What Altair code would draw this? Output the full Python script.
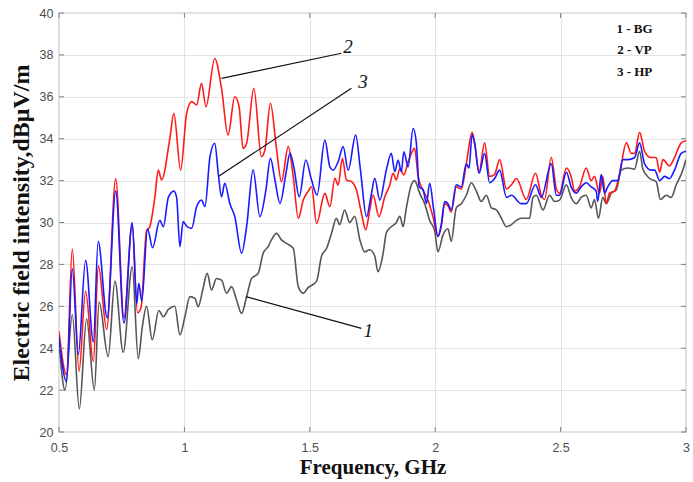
import altair as alt
import pandas as pd

# ---- data ----
bg_f = [0.5, 0.524, 0.553, 0.581, 0.61, 0.641, 0.66, 0.696, 0.723, 0.756, 0.792, 0.816, 0.832, 0.849,
        0.872, 0.898, 0.916, 0.936, 0.962, 0.982, 1.002, 1.022, 1.042, 1.055, 1.073, 1.091, 1.108, 1.128,
        1.148, 1.168, 1.188, 1.208, 1.228, 1.248, 1.268, 1.294, 1.314, 1.334, 1.347, 1.367, 1.387, 1.407,
        1.434, 1.454, 1.474, 1.494, 1.507, 1.527, 1.547, 1.567, 1.587, 1.606, 1.619, 1.639, 1.659, 1.679,
        1.699, 1.719, 1.739, 1.759, 1.772, 1.792, 1.805, 1.825, 1.845, 1.859, 1.872, 1.885, 1.905, 1.918,
        1.938, 1.958, 1.978, 1.998, 2.011, 2.031, 2.051, 2.064, 2.084, 2.104, 2.124, 2.144, 2.164, 2.184,
        2.204, 2.224, 2.244, 2.264, 2.284, 2.304, 2.324, 2.343, 2.363, 2.376, 2.39, 2.403, 2.43, 2.456,
        2.476, 2.496, 2.523, 2.542, 2.562, 2.582, 2.602, 2.622, 2.635, 2.651, 2.668, 2.682, 2.702, 2.722,
        2.742, 2.768, 2.795, 2.815, 2.828, 2.855, 2.881, 2.898, 2.921, 2.941, 2.961, 2.981, 3.0]
bg_v = [24.3, 22.0, 25.6, 21.1, 25.4, 22.0, 26.2, 23.6, 27.2, 23.8, 27.9, 23.5, 25.0, 26.0,
        24.4, 25.8, 25.5, 25.85, 26.0, 24.63, 25.5, 26.46, 26.38, 25.98, 26.78, 27.57, 26.78, 27.33,
        27.25, 26.62, 26.94, 26.3, 25.66, 26.46, 27.33, 27.57, 28.53, 28.85, 29.17, 29.48, 29.17, 29.0,
        28.77, 26.94, 26.62, 26.9, 27.0, 27.2, 28.4, 28.77, 29.5, 30.2, 29.9, 30.6, 30.0, 30.3,
        29.2, 28.6, 28.7, 28.4, 27.65, 28.5, 29.5, 29.8, 30.0, 30.3, 29.8, 30.7, 31.8, 32.0,
        31.4, 30.9, 30.1, 29.6, 28.6, 29.4, 29.7, 29.1, 30.7, 30.9, 31.3, 31.9, 31.5, 31.0,
        31.3, 30.7, 30.6, 30.2, 29.8, 29.9, 30.1, 30.2, 30.2, 30.2, 31.2, 31.3, 30.6, 31.3,
        31.0, 31.07, 31.8, 31.2, 30.9, 31.2, 31.3, 30.7, 31.1, 30.2, 31.2, 30.9, 31.4, 31.55,
        32.5, 32.6, 32.55, 33.4, 32.55, 32.1, 31.95, 31.1, 31.3, 31.2, 31.8, 32.3, 33.0]

vp_f = [0.5, 0.53, 0.553, 0.58, 0.606, 0.637, 0.657, 0.69, 0.726, 0.759, 0.792, 0.813, 0.827, 0.849,
        0.862, 0.882, 0.896, 0.909, 0.942, 0.958, 0.985, 1.009, 1.029, 1.049, 1.068, 1.086, 1.121, 1.148,
        1.174, 1.201, 1.218, 1.234, 1.248, 1.277, 1.307, 1.321, 1.343, 1.367, 1.387, 1.414, 1.434, 1.454,
        1.474, 1.494, 1.507, 1.527, 1.56, 1.58, 1.6, 1.613, 1.63, 1.646, 1.666, 1.686, 1.706, 1.723,
        1.739, 1.752, 1.776, 1.799, 1.819, 1.832, 1.845, 1.859, 1.875, 1.892, 1.905, 1.918, 1.932, 1.951,
        1.971, 1.991, 2.011, 2.024, 2.038, 2.051, 2.064, 2.084, 2.104, 2.124, 2.147, 2.157, 2.175, 2.197,
        2.217, 2.237, 2.257, 2.284, 2.304, 2.324, 2.363, 2.4, 2.423, 2.436, 2.463, 2.483, 2.496, 2.523,
        2.542, 2.556, 2.575, 2.602, 2.622, 2.635, 2.655, 2.668, 2.682, 2.695, 2.715, 2.735, 2.762, 2.782,
        2.795, 2.815, 2.835, 2.861, 2.881, 2.895, 2.908, 2.934, 2.954, 2.981, 3.0]
vp_v = [24.81, 22.73, 28.73, 22.89, 26.73, 23.37, 27.93, 24.89, 32.08, 25.45, 29.92, 25.69, 25.93, 29.6,
        29.8, 31.2, 32.5, 32.03, 34.02, 35.21, 32.5, 35.21, 35.77, 35.61, 36.64, 35.53, 37.83, 36.4,
        34.18, 36.0, 35.53, 33.54, 33.78, 36.4, 33.14, 33.46, 35.69, 33.54, 31.95, 33.62, 32.19, 30.2,
        31.07, 31.5, 31.71, 29.96, 31.39, 30.75, 32.11, 31.79, 33.06, 32.03, 31.95, 31.55, 30.44, 29.65,
        30.6, 31.31, 30.28, 31.23, 31.79, 32.35, 32.03, 32.58, 32.27, 32.9, 33.3, 33.54, 32.19, 31.55,
        31.07, 30.28, 29.33, 29.8, 30.9, 30.8, 30.5, 31.7, 31.6, 32.8, 34.3, 33.8, 32.4, 33.8,
        32.2, 32.3, 33.0, 31.6, 31.8, 32.1, 31.1, 32.35, 31.3, 31.1, 33.1, 31.6, 31.4, 32.6,
        32.2, 31.5, 31.7, 32.6, 32.0, 32.2, 31.4, 32.2, 30.9, 31.4, 31.5, 32.3, 33.8, 33.3,
        33.3, 34.3, 33.4, 33.1, 33.1, 32.4, 33.0, 32.7, 33.1, 33.8, 33.9]

hp_f = [0.5, 0.53, 0.553, 0.577, 0.606, 0.637, 0.656, 0.692, 0.726, 0.759, 0.792, 0.81, 0.818, 0.83,
        0.853, 0.873, 0.902, 0.916, 0.936, 0.958, 0.969, 0.982, 0.995, 1.011, 1.029, 1.049, 1.068, 1.082,
        1.102, 1.121, 1.135, 1.148, 1.161, 1.181, 1.201, 1.228, 1.248, 1.274, 1.301, 1.325, 1.343, 1.361,
        1.381, 1.405, 1.421, 1.436, 1.458, 1.484, 1.507, 1.529, 1.56, 1.58, 1.593, 1.613, 1.633, 1.653,
        1.683, 1.702, 1.726, 1.746, 1.759, 1.779, 1.805, 1.825, 1.839, 1.852, 1.865, 1.875, 1.892, 1.912,
        1.925, 1.936, 1.952, 1.965, 1.978, 1.994, 2.011, 2.024, 2.038, 2.051, 2.064, 2.084, 2.104, 2.124,
        2.135, 2.147, 2.157, 2.175, 2.197, 2.217, 2.237, 2.257, 2.284, 2.304, 2.343, 2.363, 2.4, 2.423,
        2.463, 2.483, 2.496, 2.523, 2.542, 2.562, 2.582, 2.602, 2.622, 2.642, 2.648, 2.662, 2.675, 2.688,
        2.708, 2.728, 2.748, 2.768, 2.795, 2.815, 2.835, 2.861, 2.875, 2.895, 2.915, 2.934, 2.954, 2.981, 3.0]
hp_v = [24.5, 22.4, 27.8, 23.7, 28.2, 24.3, 29.1, 25.45, 31.5, 25.2, 30.0, 26.1, 27.1, 26.25,
        29.7, 28.8, 30.1, 29.8, 31.2, 31.5, 31.2, 28.85, 30.04, 29.8, 29.72, 30.76, 31.07, 30.76,
        33.14, 33.78, 32.35, 31.23, 31.87, 30.91, 30.28, 28.53, 29.8, 32.51, 30.28, 31.55, 33.06, 32.03,
        30.91, 32.35, 33.3, 32.67, 31.23, 32.98, 32.03, 31.31, 33.93, 32.66, 32.5, 32.9, 33.62, 32.5,
        34.17, 32.5, 30.28, 31.39, 32.11, 31.07, 32.5, 33.3, 32.42, 32.98, 32.42, 33.38, 32.66, 34.49,
        33.77, 31.71, 31.55, 30.91, 31.87, 30.6, 29.33, 29.9, 31.0, 30.9, 30.6, 31.8, 31.7, 32.8,
        32.6, 34.2, 33.8, 32.35, 33.3, 31.9, 32.1, 32.5, 31.2, 31.3, 30.9, 30.9, 31.8, 31.2,
        32.8, 31.3, 31.3, 32.4, 31.7, 31.4, 31.7, 31.9, 31.7, 31.5, 31.0, 32.3, 31.4, 31.7,
        32.0, 32.0, 33.0, 33.0, 33.1, 33.8, 32.8, 32.5, 32.5, 32.0, 32.2, 32.1, 32.5, 33.3, 33.4]

# annotation leader lines (start point on curve -> end near label)
ann_label = ["2", "3", "1"]
ann_x1 = [1.148, 1.135, 1.245]
ann_y1 = [36.88, 32.19, 26.46]
ann_x2 = [1.626, 1.666, 1.706]
ann_y2 = [38.08, 36.41, 24.95]
ann_tx = [1.652, 1.712, 1.733]
ann_ty = [38.4, 36.72, 24.8]

legend_text = ["1 - BG", "2 - VP", "3 - HP"]
legend_x = [2.795, 2.795, 2.795]
legend_y = [39.22, 38.22, 37.18]

x_ticks = [0.5, 1, 1.5, 2, 2.5, 3]
y_ticks = [20, 22, 24, 26, 28, 30, 32, 34, 36, 38, 40]

W, H = 627, 419
X_TITLE = "Frequency, GHz"
Y_TITLE = "Electric field intensity,dBμV/m"

xs = alt.Scale(domain=[0.5, 3], nice=False, zero=False)
ys = alt.Scale(domain=[20, 40], nice=False, zero=False)

x_axis = alt.Axis(values=x_ticks, format="~g", grid=True, gridColor="#e3e3e3", ticks=False,
                  domain=False, labelFont="Liberation Sans", labelFontSize=12.5,
                  labelColor="#4d4d4d", labelPadding=9, labelFlush=False, labelOverlap=False,
                  titleFont="Liberation Serif", titleFontSize=21, titleFontWeight="bold",
                  titleColor="#111111", titlePadding=3)
y_axis = alt.Axis(values=y_ticks, grid=True, gridColor="#e3e3e3", ticks=False,
                  domain=False, labelFont="Liberation Sans", labelFontSize=12.5,
                  labelColor="#4d4d4d", labelPadding=6, labelFlush=False, labelOverlap=False,
                  titleFont="Liberation Serif", titleFontSize=24, titleFontWeight="bold",
                  titleColor="#111111", titlePadding=6)


def XE(field):
    return alt.X(field, type="quantitative", scale=xs, axis=x_axis, title=X_TITLE)


def YE(field):
    return alt.Y(field, type="quantitative", scale=ys, axis=y_axis, title=Y_TITLE)


def series(f, v, color):
    df = pd.DataFrame({"f": f, "v": v})
    return alt.Chart(df).mark_line(color=color, strokeWidth=1.6, interpolate="monotone", clip=True).encode(
        x=XE("f"), y=YE("v"))


# inward tick marks (MATLAB style) on all four sides
xt = pd.DataFrame({"f": x_ticks})
yt = pd.DataFrame({"v": y_ticks})
tick_col = "#808080"
tb = alt.Chart(xt).mark_rule(color=tick_col, strokeWidth=1).encode(
    x=XE("f"), y=alt.value(H), y2=alt.value(H - 5))
tt = alt.Chart(xt).mark_rule(color=tick_col, strokeWidth=1).encode(
    x=XE("f"), y=alt.value(0), y2=alt.value(5))
tl = alt.Chart(yt).mark_rule(color=tick_col, strokeWidth=1).encode(
    y=YE("v"), x=alt.value(0), x2=alt.value(5))
tr = alt.Chart(yt).mark_rule(color=tick_col, strokeWidth=1).encode(
    y=YE("v"), x=alt.value(W), x2=alt.value(W - 5))

ann_df = pd.DataFrame({"label": ann_label, "x1": ann_x1, "y1": ann_y1, "x2": ann_x2, "y2": ann_y2,
                       "tx": ann_tx, "ty": ann_ty})
leaders = alt.Chart(ann_df).mark_rule(color="#111111", strokeWidth=1.2).encode(
    x=XE("x1"), y=YE("y1"), x2="x2:Q", y2="y2:Q")
labels = alt.Chart(ann_df).mark_text(font="Liberation Serif", fontSize=19, fontStyle="italic",
                                     align="center", baseline="middle", color="#111111").encode(
    x=XE("tx"), y=YE("ty"), text="label:N")

leg_df = pd.DataFrame({"t": legend_text, "x": legend_x, "y": legend_y})
legend = alt.Chart(leg_df).mark_text(font="Liberation Serif", fontSize=13, fontWeight="bold",
                                     align="center", baseline="middle", color="#111111").encode(
    x=XE("x"), y=YE("y"), text="t:N")

chart = alt.layer(
    series(bg_f, bg_v, "#555555"),
    series(vp_f, vp_v, "#ff1a1a"),
    series(hp_f, hp_v, "#1a1aff"),
    tb, tt, tl, tr,
    leaders, labels, legend,
).properties(
    width=W, height=H,
    autosize=alt.AutoSizeParams(type="none"),
    padding={"left": 59, "top": 13, "right": 7, "bottom": 50},
    background="white",
).configure_view(stroke="#8c8c8c", strokeWidth=1.2)

chart.save("out.html", embed_options={"renderer": "svg", "actions": False})
